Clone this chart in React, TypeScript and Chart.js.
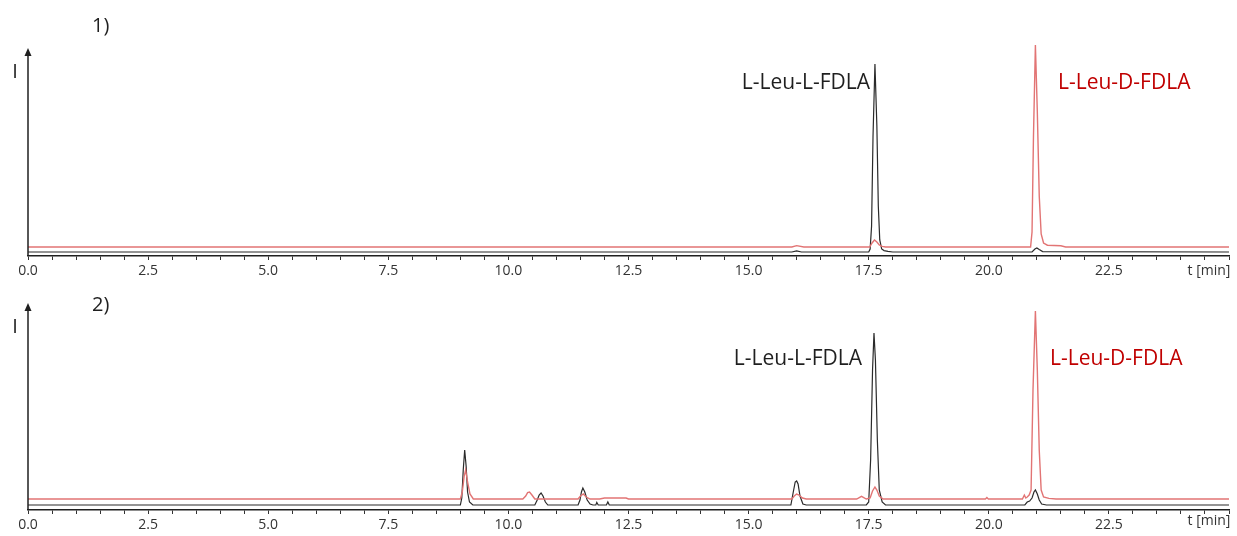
import React, { useEffect, useRef } from "react";
import { Chart, registerables } from "chart.js";
Chart.register(...registerables);

// ---- axis / label data ----
const X_MIN = 0;
const X_MAX = 25;
const TICK_STEP = 0.5;
const LABEL_STEP = 2.5;
const X_AXIS_TITLE = "t [min]";
const Y_AXIS_TITLE = "I";
const PANEL_LABELS = ["1)", "2)"];
const PEAK_LABEL_L = "L-Leu-L-FDLA";
const PEAK_LABEL_D = "L-Leu-D-FDLA";

// ---- panel 1 (standards) ----
const p1BlackT = [0, 15.9, 16.0, 16.1, 17.5, 17.53, 17.56, 17.59, 17.63, 17.67, 17.7, 17.73, 17.77, 17.82, 17.9, 18.0, 20.9, 20.96, 21.0, 21.05, 21.12, 25];
const p1BlackI = [2, 2, 2.6, 2, 2, 3.5, 15, 60, 96, 65, 25, 8, 3.5, 2.7, 2.3, 2, 2, 3.5, 4, 3.2, 2.2, 2];
const p1RedT = [0, 15.9, 16.0, 16.15, 17.52, 17.57, 17.62, 17.67, 17.72, 17.78, 17.85, 20.87, 20.9, 20.93, 20.97, 21.01, 21.05, 21.09, 21.14, 21.22, 21.5, 21.6, 25];
const p1RedI = [4.5, 4.5, 5.2, 4.5, 4.5, 6.5, 8, 7, 5.5, 4.8, 4.5, 4.5, 12, 60, 105.5, 72, 30, 11, 6.5, 5.4, 5.1, 4.5, 4.5];

// ---- panel 2 (sample) ----
const p2BlackT = [0, 9.0, 9.03, 9.06, 9.09, 9.12, 9.15, 9.19, 9.26, 10.55, 10.6, 10.64, 10.68, 10.72, 10.77, 10.82, 11.45, 11.49, 11.52, 11.55, 11.59, 11.64, 11.7, 11.76, 11.82, 11.84, 11.87, 12.04, 12.07, 12.1, 15.88, 15.93, 15.97, 16.0, 16.03, 16.07, 16.13, 16.2, 17.45, 17.5, 17.54, 17.58, 17.61, 17.64, 17.68, 17.72, 17.78, 17.85, 20.75, 20.8, 20.85, 20.9, 20.94, 20.97, 21.01, 21.05, 21.1, 21.2, 25];
const p2BlackI = [2.5, 2.5, 6, 20, 30, 22, 9, 4, 2.5, 2.5, 5, 7.5, 8.5, 7, 4, 2.5, 2.5, 5, 9, 11, 9, 5, 3, 2.5, 2.5, 3.8, 2.5, 2.5, 4, 2.5, 2.5, 9, 14, 14.5, 13, 7, 3, 2.5, 2.5, 4, 25, 70, 88.5, 75, 35, 10, 4, 2.5, 2.5, 4, 4.5, 6, 9, 10, 8, 5, 3, 2.5, 2.5];
const p2RedT = [0, 9.0, 9.04, 9.08, 9.11, 9.15, 9.2, 9.27, 10.3, 10.36, 10.4, 10.44, 10.49, 10.55, 11.45, 11.5, 11.56, 11.62, 11.7, 11.9, 12.0, 12.45, 12.5, 15.9, 15.95, 16.0, 16.05, 16.12, 16.2, 17.25, 17.35, 17.45, 17.53, 17.58, 17.63, 17.67, 17.72, 17.8, 19.93, 19.96, 19.99, 20.7, 20.74, 20.77, 20.8, 20.84, 20.88, 20.92, 20.97, 21.01, 21.05, 21.09, 21.14, 21.25, 21.4, 25];
const p2RedI = [5.5, 5.5, 9, 17, 20, 14, 8, 5.5, 5.5, 7, 8.7, 9, 7.5, 5.5, 5.5, 7, 8, 6.5, 5.5, 5.5, 6, 6, 5.5, 5.5, 7, 8, 7.5, 6, 5.5, 5.5, 6.8, 5.5, 6, 9.5, 11.5, 10, 7, 5.5, 5.5, 6.2, 5.5, 5.5, 7.5, 6, 6.5, 7.5, 10, 60, 99.5, 70, 30, 10, 6.5, 5.8, 5.5, 5.5];

const BLACK = "#1f1f1f";
const TRACE_BLACK = "#2a2a2a";
const RED_LINE = "#e27474";
const RED_TEXT = "#c00000";
const FONT = "'Open Sans', 'Noto Sans', sans-serif";

const zip = (t: number[], v: number[]) => t.map((x, i) => ({ x, y: v[i] }));

type PanelCfg = {
  top: number;
  height: number;
  padTop: number;
  axisH: number;
  yMax: number;
  blackT: number[];
  blackI: number[];
  redT: number[];
  redI: number[];
  label: string;
  labelY: number;
  iY: number;
  arrowTip: number;
  peakLRight: number;
  peakDLeft: number;
  peakY: number;
  tY: number;
};

const PANELS: PanelCfg[] = [
  {
    top: 0, height: 280, padTop: 40, axisH: 24, yMax: 108,
    blackT: p1BlackT, blackI: p1BlackI, redT: p1RedT, redI: p1RedI,
    label: PANEL_LABELS[0], labelY: 26, iY: 72, arrowTip: 48,
    peakLRight: 870, peakDLeft: 1058, peakY: 83, tY: 271,
  },
  {
    top: 280, height: 256, padTop: 16, axisH: 26, yMax: 107,
    blackT: p2BlackT, blackI: p2BlackI, redT: p2RedT, redI: p2RedI,
    label: PANEL_LABELS[1], labelY: 25, iY: 47, arrowTip: 23,
    peakLRight: 862, peakDLeft: 1050, peakY: 79, tY: 241,
  },
];

function Panel({ cfg }: { cfg: PanelCfg }) {
  const ref = useRef<HTMLCanvasElement | null>(null);
  useEffect(() => {
    if (!ref.current) return;
    const overlay = {
      id: "overlay",
      afterDraw(chart: any) {
        const ctx = chart.ctx as CanvasRenderingContext2D;
        const a = chart.chartArea;
        ctx.save();
        // y axis with arrow
        ctx.strokeStyle = BLACK;
        ctx.fillStyle = BLACK;
        ctx.lineWidth = 1.5;
        ctx.beginPath();
        ctx.moveTo(a.left, a.bottom);
        ctx.lineTo(a.left, cfg.arrowTip + 6);
        ctx.stroke();
        ctx.beginPath();
        ctx.moveTo(a.left, cfg.arrowTip);
        ctx.lineTo(a.left - 3.5, cfg.arrowTip + 8);
        ctx.lineTo(a.left + 3.5, cfg.arrowTip + 8);
        ctx.closePath();
        ctx.fill();
        // texts
        ctx.textBaseline = "middle";
        ctx.fillStyle = BLACK;
        ctx.font = `20px ${FONT}`;
        ctx.textAlign = "left";
        ctx.fillText(cfg.label, 92, cfg.labelY);
        ctx.textAlign = "center";
        ctx.fillText(Y_AXIS_TITLE, 15, cfg.iY);
        ctx.font = `21px ${FONT}`;
        ctx.textAlign = "right";
        ctx.fillText(PEAK_LABEL_L, cfg.peakLRight, cfg.peakY);
        ctx.fillStyle = RED_TEXT;
        ctx.textAlign = "left";
        ctx.fillText(PEAK_LABEL_D, cfg.peakDLeft, cfg.peakY);
        ctx.fillStyle = "#333333";
        ctx.font = `14px ${FONT}`;
        ctx.textAlign = "center";
        ctx.fillText(X_AXIS_TITLE, 1209, cfg.tY);
        ctx.restore();
      },
    };
    const chart = new Chart(ref.current, {
      type: "line",
      data: {
        datasets: [
          {
            data: zip(cfg.redT, cfg.redI),
            borderColor: RED_LINE,
            borderWidth: 1.4,
            pointRadius: 0,
            tension: 0,
          },
          {
            data: zip(cfg.blackT, cfg.blackI),
            borderColor: TRACE_BLACK,
            borderWidth: 1.2,
            pointRadius: 0,
            tension: 0,
          },
        ],
      },
      options: {
        animation: false,
        responsive: false,
        maintainAspectRatio: false,
        parsing: false,
        layout: { padding: { left: 28, right: 8, top: cfg.padTop, bottom: 0 } },
        plugins: { legend: { display: false }, tooltip: { enabled: false }, title: { display: false } },
        scales: {
          x: {
            type: "linear",
            min: X_MIN,
            max: X_MAX,
            afterFit: (s: any) => { s.height = cfg.axisH; },
            border: { display: true, color: BLACK, width: 1.5 },
            grid: { display: true, drawOnChartArea: false, drawTicks: true, tickLength: 4, color: "#333333", lineWidth: 1 },
            ticks: {
              stepSize: TICK_STEP,
              autoSkip: false,
              maxRotation: 0,
              padding: 3,
              color: "#333333",
              font: { family: FONT, size: 14 },
              callback: (v: any) => {
                const n = Number(v);
                if (n >= X_MAX) return "";
                return Math.abs(n / LABEL_STEP - Math.round(n / LABEL_STEP)) < 1e-6 ? n.toFixed(1) : "";
              },
            },
          },
          y: {
            display: false,
            min: 0,
            max: cfg.yMax,
          },
        },
      },
      plugins: [overlay],
    } as any);
    return () => chart.destroy();
  }, [cfg]);
  return (
    <div style={{ position: "absolute", left: 0, top: cfg.top, width: 1237, height: cfg.height }}>
      <canvas ref={ref} width={1237} height={cfg.height} style={{ display: "block" }} />
    </div>
  );
}

export default function App() {
  return (
    <div style={{ position: "fixed", left: 0, top: 0, width: 1237, height: 536, background: "#fff" }}>
      {PANELS.map((p, i) => (
        <Panel key={i} cfg={p} />
      ))}
    </div>
  );
}
